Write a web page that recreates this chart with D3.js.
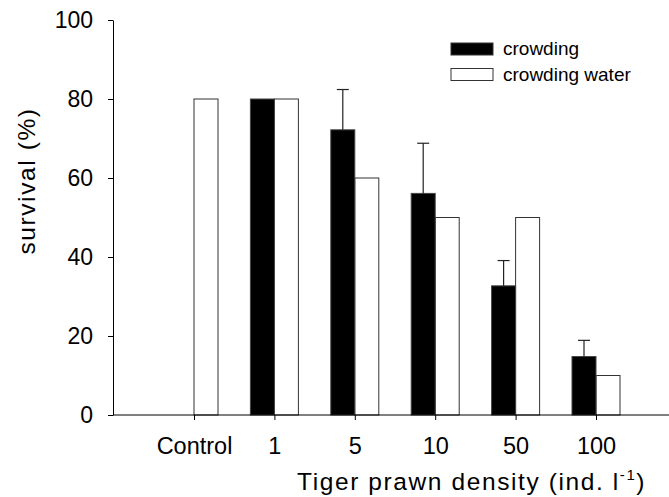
<!DOCTYPE html>
<html>
<head>
<meta charset="utf-8">
<script src="https://cdn.jsdelivr.net/npm/d3@7"></script>
<style>
  body { margin: 0; background: #fff; }
  svg text { font-family: "Liberation Sans", Arial, sans-serif; fill: #000; }
</style>
</head>
<body>
<div id="chart"></div>
<script>
const categories = ["Control", "1", "5", "10", "50", "100"];
const crowding = [0, 80, 72.2, 56.1, 32.7, 14.8];
const crowdingErr = [null, null, 10.2, 12.7, 6.4, 4.1];
const crowdingWater = [80, 80, 60, 50, 50, 10];
const yTicks = [0, 20, 40, 60, 80, 100];

function drawChart() {
    const width = 669, height = 497;
    const svg = d3.select("#chart").append("svg").attr("width", width).attr("height", height);

    const y = d3.scaleLinear().domain([0, 100]).range([415, 20]);
    const x = d3.scalePoint().domain(categories).range([194, 596]);
    const barW = 24;

    // y axis
    const yAxis = svg.append("g").attr("transform", "translate(113,0)")
        .call(d3.axisLeft(y).tickValues(yTicks).tickSize(5).tickSizeOuter(0).tickPadding(15));
    yAxis.select(".domain").attr("stroke", "#000");
    yAxis.selectAll("text").style("font-size", "23px");

    // bars: crowding water (white)
    svg.append("g").selectAll("rect").data(crowdingWater).join("rect")
        .attr("x", (d, i) => x(categories[i]))
        .attr("y", d => y(d))
        .attr("width", barW)
        .attr("height", d => y(0) - y(d))
        .attr("fill", "#fff").attr("stroke", "#333").attr("stroke-width", 1);

    // bars: crowding (black)
    const crowdRows = crowding.map((d, i) => ({ v: d, e: crowdingErr[i], c: categories[i] }));
    svg.append("g").selectAll("rect").data(crowdRows.filter(d => d.v > 0)).join("rect")
        .attr("x", d => x(d.c) - barW)
        .attr("y", d => y(d.v))
        .attr("width", barW)
        .attr("height", d => y(0) - y(d.v))
        .attr("fill", "#000").attr("stroke", "#444").attr("stroke-width", 1);

    // error bars (upper only)
    const errs = crowdRows.filter(d => d.e != null);
    const eg = svg.append("g").attr("stroke", "#222").attr("stroke-width", 1.2);
    eg.selectAll("line.v").data(errs).join("line").attr("class", "v")
        .attr("x1", d => x(d.c) - barW / 2).attr("x2", d => x(d.c) - barW / 2)
        .attr("y1", d => y(d.v)).attr("y2", d => y(d.v + d.e));
    eg.selectAll("line.cap").data(errs).join("line").attr("class", "cap")
        .attr("x1", d => x(d.c) - barW / 2 - 6).attr("x2", d => x(d.c) - barW / 2 + 6)
        .attr("y1", d => y(d.v + d.e)).attr("y2", d => y(d.v + d.e));

    // x axis
    svg.append("line").attr("x1", 113).attr("x2", width).attr("y1", y(0)).attr("y2", y(0))
        .attr("stroke", "#000").attr("stroke-width", 1);
    const xAxis = svg.append("g").attr("transform", `translate(0,${y(0)})`)
        .call(d3.axisBottom(x).tickSize(5).tickSizeOuter(0).tickPadding(17));
    xAxis.select(".domain").remove();
    xAxis.selectAll("text").style("font-size", "23.5px");

    // axis titles
    svg.append("text").attr("transform", "translate(35,181) rotate(-90)")
        .attr("text-anchor", "middle").style("font-size", "24.5px").style("letter-spacing", "1.6px")
        .text("survival (%)");
    const xt = svg.append("text").attr("x", 297).attr("y", 490)
        .style("font-size", "24.5px").style("letter-spacing", "1.6px");
    xt.append("tspan").text("Tiger prawn density (ind. l");
    xt.append("tspan").attr("dy", -10).style("font-size", "15px").text("-1");
    xt.append("tspan").attr("dy", 10).text(")");

    // legend
    const legend = [{ name: "crowding", fill: "#000" }, { name: "crowding water", fill: "#fff" }];
    const lg = svg.append("g").selectAll("g").data(legend).join("g")
        .attr("transform", (d, i) => `translate(451,${43 + i * 25.5})`);
    lg.append("rect").attr("width", 42).attr("height", 12)
        .attr("fill", d => d.fill).attr("stroke", "#333").attr("stroke-width", 1);
    lg.append("text").attr("x", 52).attr("y", 12).style("font-size", "19px").text(d => d.name);
}

document.addEventListener("DOMContentLoaded", () => {
    drawChart();
});
</script>
</body>
</html>
